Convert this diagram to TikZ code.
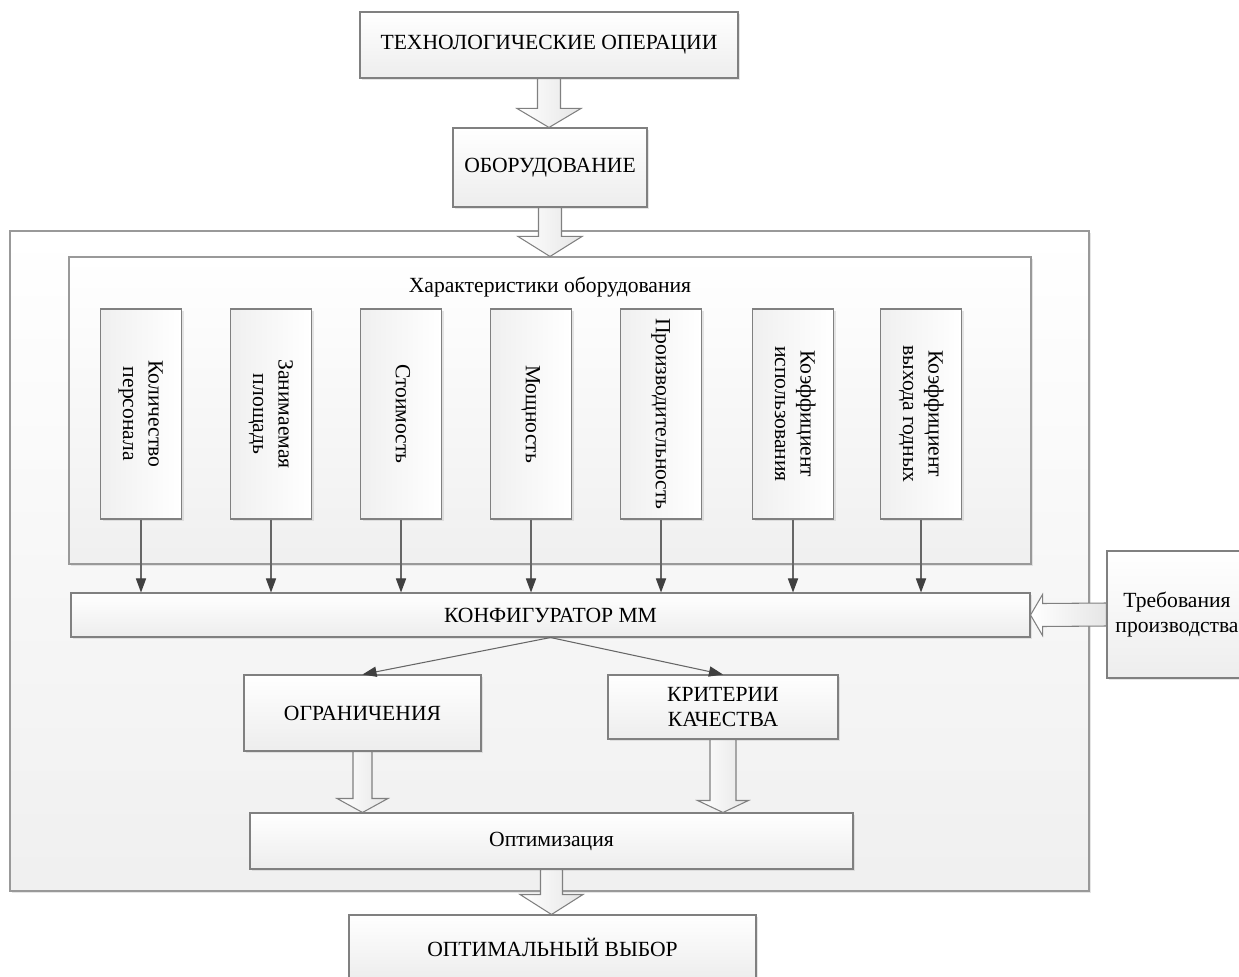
\documentclass[tikz,border=0pt]{standalone}
\usepackage{fontspec}
\setmainfont{Liberation Serif}
\usepackage{tikz}
\usetikzlibrary{arrows.meta,calc,shadows}

\begin{document}
\begin{tikzpicture}[x=0.02cm,y=-0.02cm,font=\fontsize{12.3}{14.5}\selectfont,
  boxsize/.style 2 args={minimum width=#1*0.02cm,minimum height=#2*0.02cm},
  box/.style={draw=black!50,line width=0.6pt,top color=white,bottom color=black!7,
    align=center,inner sep=1pt,
    drop shadow={shadow xshift=1.4pt,shadow yshift=-1.4pt,fill=black!25,opacity=0.4}},
  vbox/.style={box,left color=black!6,right color=white},
  frame/.style={box,draw=black!40,top color=white,bottom color=black!6},
  fatarrow/.style={draw=black!50,line width=0.6pt,left color=white,right color=black!10,line join=miter},
  link/.style={draw=black!60,line width=0.6pt,-{Triangle[length=8pt,width=5.8pt,color=black!75]}}]
  \useasboundingbox (0,0) rectangle (1239,976);
  % outer frame and the block of equipment characteristics
  \node[frame,boxsize={1079}{660}] (outer) at (549.5,561) {};
  \node[frame,boxsize={962}{307}] (charac) at (550,410.5) {};
  \node[anchor=base] (charactitle) at (550,293) {Характеристики оборудования};
  \foreach \x/\n/\t in {141/1/{Количество\\персонала},271/2/{Занимаемая\\площадь},
      401/3/Стоимость,531/4/Мощность,661/5/Производительность,
      793/6/{Коэффициент\\использования},921/7/{Коэффициент\\выхода годных}}
    \node[vbox,boxsize={81}{210}] (par\n) at (\x,414)
      {\rotatebox{-90}{\begin{tabular}{@{}c@{}}\t\end{tabular}}};
  % configurator and what follows it
  \node[box,boxsize={959}{44}] (konf) at (550.5,615) {КОНФИГУРАТОР ММ};
  \node[box,boxsize={237}{76}] (lim) at (362.5,713) {ОГРАНИЧЕНИЯ};
  \node[box,boxsize={230}{64}] (crit) at (723,707) {КРИТЕРИИ\\КАЧЕСТВА};
  \node[box,boxsize={603}{56}] (optim) at (551.5,841) {Оптимизация};
  \node[box,boxsize={140}{127}] (treb) at (1177,614.5) {Требования\\производства};
  % top of the chain and the result
  \node[box,boxsize={378}{66}] (ops) at (549,45) {ТЕХНОЛОГИЧЕСКИЕ ОПЕРАЦИИ};
  \node[box,boxsize={194}{79}] (equip) at (550,167.5) {ОБОРУДОВАНИЕ};
  \node[box,boxsize={407}{64}] (final) at (552.5,947) {ОПТИМАЛЬНЫЙ ВЫБОР};
  % wide arrows: from / to / shaft half width / head half width / head length
  \foreach \a/\b/\s/\h/\l in {ops/equip/11.5/32/19,equip/charac/11.5/32/20,
      lim/optim/9.5/25.5/14,crit/optim/13/25.5/12,optim/final/11/31.5/20}
    \draw[fatarrow] ($(\a.south)+(-\s,0)$) -- ($(\a.south |- \b.north)+(-\s,-\l)$)
      -- ($(\a.south |- \b.north)+(-\h,-\l)$) -- (\a.south |- \b.north)
      -- ($(\a.south |- \b.north)+(\h,-\l)$) -- ($(\a.south |- \b.north)+(\s,-\l)$)
      -- ($(\a.south)+(\s,0)$) -- cycle;
  \draw[fatarrow] (konf.east) -- ($(konf.east)+(12,-20.5)$) -- ($(konf.east)+(12,-11.5)$)
    -- ($(treb.west)+(0,-11.5)$) -- ($(treb.west)+(0,11.5)$) -- ($(konf.east)+(12,11.5)$)
    -- ($(konf.east)+(12,20.5)$) -- cycle;
  % thin links
  \foreach \n in {1,...,7}
    \draw[link] (par\n.south) -- (par\n.south |- konf.north);
  \draw[link] (konf.south) -- (lim.north);
  \draw[link] (konf.south) -- (crit.north);
\end{tikzpicture}
\end{document}
